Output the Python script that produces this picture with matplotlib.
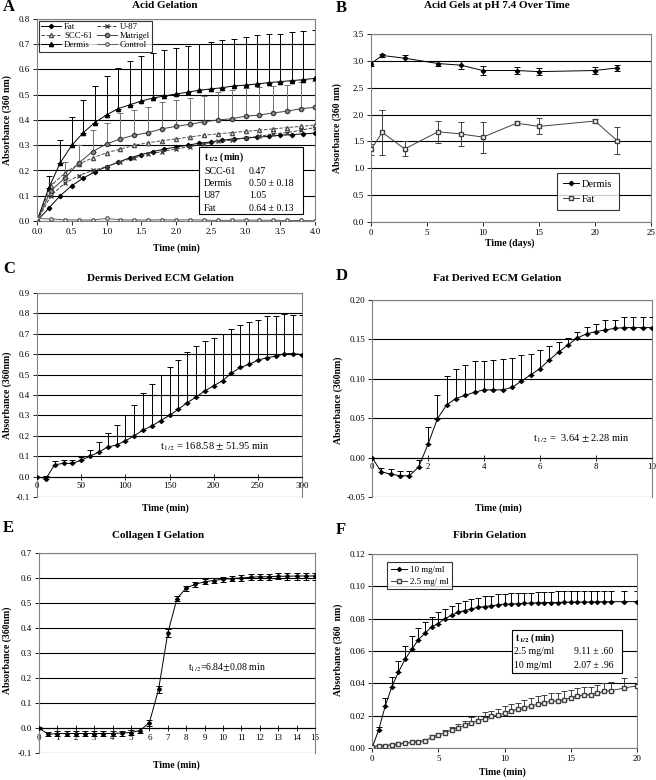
import matplotlib
matplotlib.use('Agg')
import matplotlib.pyplot as plt
import numpy as np
from matplotlib.patches import Rectangle
from matplotlib.lines import Line2D

plt.rcParams['font.family'] = ['Liberation Serif', 'DejaVu Serif']
plt.rcParams['mathtext.fontset'] = 'stix'

# ---------------- DATA ----------------
# Panel A (time in min)
a_t6 = [i / 6 for i in range(25)]
a_t5 = [i / 5 for i in range(21)]
a_dermis = [0, 0.13, 0.23, 0.30, 0.35, 0.39, 0.42, 0.445, 0.46, 0.475, 0.487, 0.495, 0.503,
            0.51, 0.518, 0.523, 0.528, 0.535, 0.538, 0.543, 0.548, 0.552, 0.556, 0.56, 0.565]
a_dermis_hi = [0, 0.18, 0.32, 0.41, 0.48, 0.535, 0.575, 0.607, 0.633, 0.652, 0.665, 0.678, 0.685,
               0.695, 0.70, 0.71, 0.715, 0.722, 0.727, 0.735, 0.74, 0.742, 0.748, 0.752, 0.758]
a_fat = [0, 0.05, 0.10, 0.14, 0.17, 0.195, 0.215, 0.233, 0.25, 0.263, 0.275, 0.285, 0.293,
         0.30, 0.308, 0.313, 0.32, 0.325, 0.328, 0.332, 0.335, 0.34, 0.342, 0.345, 0.348]
a_matrigel = [0, 0.12, 0.17, 0.23, 0.275, 0.305, 0.325, 0.34, 0.35, 0.365, 0.375, 0.383, 0.393,
              0.40, 0.405, 0.415, 0.42, 0.428, 0.435, 0.445, 0.45]
a_matrigel_hi = [0, 0.15, 0.235, 0.30, 0.36, 0.39, 0.427, 0.44, 0.452, 0.47, 0.478, 0.488, 0.495,
                 0.51, 0.52, 0.525, 0.53, 0.535, 0.54, 0.55, 0.555]
a_scc61 = [0, 0.14, 0.19, 0.225, 0.25, 0.27, 0.285, 0.30, 0.31, 0.318, 0.325, 0.333, 0.34,
           0.345, 0.35, 0.355, 0.36, 0.365, 0.37, 0.375, 0.38]
a_u87 = [0, 0.10, 0.15, 0.18, 0.20, 0.215, 0.235, 0.25, 0.265, 0.275, 0.285, 0.295, 0.305,
         0.315, 0.32, 0.33, 0.335, 0.345, 0.35, 0.36, 0.37]
a_control = [0.01, 0.008, 0.005, 0.004, 0.004, 0.01, 0.005, 0.004, 0.004, 0.005, 0.004, 0.005,
             0.004, 0.002, 0.003, 0.004, 0.003, 0.003, 0.002, 0.002, 0.001]
a_table = [("SCC-61", "0.47"), ("Dermis", "0.50 \u00b1 0.18"), ("U87", "1.05"), ("Fat", "0.64 \u00b1 0.13")]

# Panel B (days)
b_t = [0, 1, 3, 6, 8, 10, 13, 15, 20, 22]
b_dermis = [2.95, 3.10, 3.05, 2.95, 2.92, 2.82, 2.82, 2.80, 2.82, 2.87]
b_dermis_err = [0.04, 0.03, 0.06, 0.04, 0.07, 0.08, 0.07, 0.06, 0.07, 0.06]
b_fat = [1.35, 1.67, 1.36, 1.68, 1.64, 1.58, 1.84, 1.78, 1.88, 1.51]
b_fat_err = [0.10, 0.42, 0.14, 0.20, 0.22, 0.29, 0.04, 0.15, 0.03, 0.25]

# Panel C
c_t = list(range(0, 301, 10))
c_y = [0, -0.01, 0.058, 0.065, 0.065, 0.08, 0.10, 0.12, 0.145, 0.155, 0.175, 0.20, 0.228, 0.248,
       0.275, 0.30, 0.33, 0.362, 0.39, 0.42, 0.445, 0.47, 0.507, 0.535, 0.55, 0.57, 0.583, 0.59,
       0.602, 0.603, 0.598]
c_hi = [0, 0.005, 0.075, 0.08, 0.08, 0.095, 0.13, 0.17, 0.215, 0.255, 0.30, 0.35, 0.41, 0.455,
        0.50, 0.535, 0.57, 0.61, 0.638, 0.665, 0.68, 0.70, 0.725, 0.745, 0.757, 0.77, 0.785, 0.788,
        0.795, 0.79, 0.79]

# Panel D
d_t = [i / 3 for i in range(31)]
d_y = [0, -0.018, -0.021, -0.023, -0.023, -0.012, 0.017, 0.049, 0.067, 0.075, 0.079, 0.083,
       0.086, 0.086, 0.086, 0.089, 0.097, 0.105, 0.113, 0.124, 0.134, 0.143, 0.152, 0.157,
       0.160, 0.162, 0.164, 0.165, 0.165, 0.165, 0.165]
d_hi = [0, -0.013, -0.015, -0.017, -0.017, -0.003, 0.039, 0.080, 0.103, 0.113, 0.118, 0.122,
        0.123, 0.124, 0.125, 0.127, 0.130, 0.132, 0.136, 0.141, 0.147, 0.152, 0.159, 0.166,
        0.170, 0.174, 0.175, 0.178, 0.178, 0.179, 0.178]

# Panel E
e_t = [i / 2 for i in range(31)]
e_y = [0, -0.025, -0.022, -0.022, -0.022, -0.022, -0.022, -0.022, -0.022, -0.02, -0.018, -0.01,
       0.022, 0.155, 0.38, 0.518, 0.56, 0.575, 0.585, 0.59, 0.595, 0.598, 0.60, 0.603, 0.605,
       0.605, 0.607, 0.607, 0.608, 0.608, 0.608]
e_err = [0.004, 0.008, 0.01, 0.01, 0.01, 0.01, 0.01, 0.01, 0.01, 0.01, 0.01, 0.01, 0.012, 0.015,
         0.015, 0.01, 0.01, 0.01, 0.01, 0.01, 0.01, 0.01, 0.012, 0.012, 0.012, 0.012, 0.012,
         0.014, 0.014, 0.014, 0.014]

# Panel F
f_t = [i / 2 for i in range(37)] + [19, 20]
f_10 = [0, 0.011, 0.026, 0.038, 0.047, 0.055, 0.061, 0.067, 0.071, 0.075, 0.077, 0.080, 0.082,
        0.084, 0.085, 0.086, 0.087, 0.0875, 0.088, 0.0885, 0.089, 0.089, 0.0893, 0.0895, 0.0897,
        0.0898, 0.09, 0.09, 0.09, 0.0902, 0.0902, 0.0903, 0.0903, 0.0904, 0.0904, 0.0905, 0.0905,
        0.0905, 0.0906]
f_10_hi = [0, 0.013, 0.031, 0.044, 0.054, 0.063, 0.069, 0.074, 0.078, 0.081, 0.084, 0.086, 0.088,
           0.090, 0.091, 0.092, 0.093, 0.094, 0.094, 0.095, 0.095, 0.096, 0.096, 0.096, 0.096,
           0.0965, 0.0965, 0.0965, 0.097, 0.097, 0.097, 0.097, 0.097, 0.097, 0.097, 0.097, 0.097,
           0.097, 0.097]
f_25 = [0.0005, 0.0015, 0.0015, 0.002, 0.0025, 0.003, 0.0035, 0.004, 0.0045, 0.0065, 0.008,
        0.0095, 0.011, 0.0125, 0.014, 0.0155, 0.017, 0.018, 0.0195, 0.0205, 0.0215, 0.023,
        0.024, 0.025, 0.026, 0.027, 0.028, 0.029, 0.029, 0.030, 0.031, 0.032, 0.033, 0.033,
        0.034, 0.035, 0.0355, 0.037, 0.0385]
f_25_hi = [0.0005, 0.0018, 0.0018, 0.0025, 0.003, 0.0035, 0.004, 0.005, 0.0055, 0.0078, 0.0095,
           0.011, 0.013, 0.015, 0.017, 0.019, 0.020, 0.022, 0.023, 0.024, 0.026, 0.027, 0.028,
           0.030, 0.031, 0.032, 0.033, 0.034, 0.034, 0.035, 0.036, 0.037, 0.038, 0.038, 0.039,
           0.040, 0.041, 0.043, 0.044]
f_table = [("2.5 mg/ml", "9.11 \u00b1 .60"), ("10 mg/ml", "2.07 \u00b1 .96")]

# ---------------- FIGURE ----------------
W, H = 656, 780
fig = plt.figure(figsize=(W / 100, H / 100), dpi=100)


def fx(x):
    return x / W


def fy(y):
    return 1 - y / H


def axes_px(l, t, r, b):
    return fig.add_axes([l / W, 1 - b / H, (r - l) / W, (b - t) / H])


def style(ax, xlim, ylim, xticks, yticks, xfmt, yfmt, zero_axis=False):
    ax.set_xlim(*xlim)
    ax.set_ylim(*ylim)
    ax.set_xticks(xticks)
    ax.set_yticks(yticks)
    ax.set_xticklabels([xfmt.format(v) for v in xticks])
    ax.set_yticklabels([yfmt.format(v) for v in yticks])
    for y in yticks:
        ax.axhline(y, color='black', lw=0.8, zorder=0.5)
    for s in ax.spines.values():
        s.set_color('#808080')
        s.set_linewidth(0.8)
    ax.tick_params(labelsize=6.5, length=3, width=0.6, pad=2, colors='black')
    if zero_axis:
        ax.spines['bottom'].set_position(('data', 0))
        ax.spines['bottom'].set_color('black')
        ax.tick_params(axis='x', direction='inout', length=4)
        ax.set_xlim(*xlim)


def labels(title, tx, ty, xl, xlx, xly, yl, ylx, yly, letter, lx, ly):
    fig.text(fx(tx), fy(ty), title, ha='center', va='center', fontsize=8, fontweight='bold')
    fig.text(fx(xlx), fy(xly), xl, ha='center', va='center', fontsize=7, fontweight='bold')
    fig.text(fx(ylx), fy(yly), yl, ha='center', va='center', fontsize=7, fontweight='bold',
             rotation=90)
    fig.text(fx(lx), fy(ly), letter, ha='left', va='center', fontsize=12, fontweight='bold')


def upper(y, hi):
    y = np.asarray(y, float)
    hi = np.asarray(hi, float)
    return [np.zeros_like(y), np.clip(hi - y, 0, None)]


# ----- Panel A -----
ax = axes_px(37, 19, 315, 221)
style(ax, (0, 4), (0, 0.8), [0, 0.5, 1, 1.5, 2, 2.5, 3, 3.5, 4],
      [0, 0.1, 0.2, 0.3, 0.4, 0.5, 0.6, 0.7, 0.8], '{:.1f}', '{:.1f}')
ax.errorbar(a_t6, a_dermis, yerr=upper(a_dermis, a_dermis_hi), fmt='none', ecolor='black',
            elinewidth=0.7, capsize=2, capthick=0.7, zorder=2)
ax.errorbar(a_t5, a_matrigel, yerr=upper(a_matrigel, a_matrigel_hi), fmt='none', ecolor='#707070',
            elinewidth=0.7, capsize=2, capthick=0.7, zorder=2)
h_fat, = ax.plot(a_t6, a_fat, '-D', color='black', ms=2.2, lw=0.7, label='Fat', zorder=3)
h_scc, = ax.plot(a_t5, a_scc61, '--^', color='#505050', mfc='white', ms=3, lw=0.7,
                 label='SCC-61', zorder=3)
h_der, = ax.plot(a_t6, a_dermis, '-^', color='black', ms=3, lw=0.7, label='Dermis', zorder=3)
h_u87, = ax.plot(a_t5, a_u87, '--x', color='#404040', ms=3, lw=0.7, label='U-87', zorder=3)
h_mat, = ax.plot(a_t5, a_matrigel, '-o', color='#404040', mfc='#909090', ms=3, lw=0.7,
                 label='Matrigel', zorder=3)
h_con, = ax.plot(a_t5, a_control, '-o', color='#606060', mfc='white', ms=2.5, lw=0.7,
                 label='Control', zorder=3)
leg = ax.legend(handles=[h_fat, h_scc, h_der, h_u87, h_mat, h_con], ncol=2, loc='upper left',
                bbox_to_anchor=(fx(39), fy(21)), bbox_transform=fig.transFigure,
                fontsize=6.3, frameon=True, fancybox=False, edgecolor='black',
                handlelength=2.3, handletextpad=0.3, columnspacing=0.5, borderpad=0.25,
                labelspacing=0.1, borderaxespad=0)
leg.get_frame().set_linewidth(0.8)
# t1/2 table
fig.patches.append(Rectangle((fx(199), fy(214)), (303 - 199) / W, (214 - 147) / H,
                             transform=fig.transFigure, facecolor='white', edgecolor='black',
                             lw=0.8, zorder=5))
fig.text(fx(204), fy(157), r'$\mathbf{t}_{\,\mathbf{1/2}}$ (min)', fontsize=7, fontweight='bold',
         va='center', zorder=6)
for i, (n, v) in enumerate(a_table):
    fig.text(fx(204), fy(171.5 + i * 12.2), n, fontsize=7, va='center', zorder=6)
    fig.text(fx(249), fy(171.5 + i * 12.2), v, fontsize=7, va='center', zorder=6)
labels('Acid Gelation', 165, 5, 'Time (min)', 176, 248, 'Absorbance (360 nm)', 7, 120,
       'A', 3, 7)

# ----- Panel B -----
ax = axes_px(371, 34, 651, 222)
style(ax, (0, 25), (0, 3.5), [0, 5, 10, 15, 20, 25],
      [0, 0.5, 1, 1.5, 2, 2.5, 3, 3.5], '{:d}', '{:.1f}')
ax.errorbar(b_t, b_dermis, yerr=b_dermis_err, fmt='none', ecolor='black',
            elinewidth=0.7, capsize=2, capthick=0.7, zorder=2)
ax.errorbar(b_t, b_fat, yerr=b_fat_err, fmt='none', ecolor='#404040',
            elinewidth=0.7, capsize=2, capthick=0.7, zorder=2)
hb1, = ax.plot(b_t, b_dermis, '-D', color='black', ms=2.2, lw=0.7, label='Dermis', zorder=3)
hb2, = ax.plot(b_t, b_fat, '-s', color='#404040', mfc='white', ms=2.8, lw=0.7, label='Fat',
               zorder=3)
leg = ax.legend(handles=[hb1, hb2], loc='upper left', bbox_to_anchor=(fx(557), fy(173)),
                bbox_transform=fig.transFigure, fontsize=7.5, fancybox=False, edgecolor='black',
                handlelength=1.5, handletextpad=0.3, borderpad=0.6, labelspacing=0.6,
                borderaxespad=0)
leg.get_frame().set_linewidth(0.8)
labels('Acid Gels at pH 7.4 Over Time', 497, 6, 'Time (days)', 510, 243,
       'Absorbance (360 nm)', 337, 128, 'B', 336, 8)

# ----- Panel C -----
ax = axes_px(37, 293, 302, 497)
style(ax, (0, 300), (-0.1, 0.9), [0, 50, 100, 150, 200, 250, 300],
      [-0.1, 0, 0.1, 0.2, 0.3, 0.4, 0.5, 0.6, 0.7, 0.8, 0.9], '{:d}', '{:.1f}', zero_axis=True)
ax.errorbar(c_t, c_y, yerr=upper(c_y, c_hi), fmt='-D', color='black', ms=2, lw=0.7,
            elinewidth=0.7, capsize=2, capthick=0.7, zorder=3)
fig.text(fx(160), fy(447), r't$_{\,1/2}$ = 168.58 $\pm$ 51.95 min', fontsize=7.5, va='center')
labels('Dermis Derived ECM Gelation', 160, 278, 'Time (min)', 165, 508,
       'Absorbance (360nm)', 7, 395, 'C', 3, 269)

# ----- Panel D -----
ax = axes_px(372, 300, 652, 497)
style(ax, (0, 10), (-0.05, 0.2), [0, 2, 4, 6, 8, 10],
      [-0.05, 0, 0.05, 0.1, 0.15, 0.2], '{:d}', '{:.2f}', zero_axis=True)
ax.errorbar(d_t, d_y, yerr=upper(d_y, d_hi), fmt='-D', color='black', ms=2, lw=0.7,
            elinewidth=0.7, capsize=2, capthick=0.7, zorder=3)
fig.text(fx(533), fy(439), r't$_{\,1/2}$ =  3.64 $\pm$ 2.28 min', fontsize=7.5, va='center')
labels('Fat Derived ECM Gelation', 497, 278, 'Time (min)', 498, 508,
       'Absorbance (360nm)', 338, 400, 'D', 336, 276)

# ----- Panel E -----
ax = axes_px(39, 553, 315, 753)
style(ax, (0, 15), (-0.1, 0.7), list(range(16)),
      [-0.1, 0, 0.1, 0.2, 0.3, 0.4, 0.5, 0.6, 0.7], '{:d}', '{:.1f}', zero_axis=True)
ax.errorbar(e_t, e_y, yerr=e_err, fmt='-D', color='black', ms=2, lw=0.7,
            elinewidth=0.7, capsize=2, capthick=0.7, zorder=3)
fig.text(fx(188), fy(668), r't$_{1/2}$=6.84$\pm$0.08 min', fontsize=7, va='center')
labels('Collagen I Gelation', 158, 536, 'Time (min)', 176, 765,
       'Absorbance (360nm)', 7, 650, 'E', 3, 528)

# ----- Panel F -----
ax = axes_px(372, 554, 637, 748)
style(ax, (0, 20), (0, 0.12), [0, 5, 10, 15, 20],
      [0, 0.02, 0.04, 0.06, 0.08, 0.1, 0.12], '{:d}', '{:.2f}')
ax.errorbar(f_t, f_10, yerr=upper(f_10, f_10_hi), fmt='none', ecolor='black',
            elinewidth=0.7, capsize=2, capthick=0.7, zorder=2)
ax.errorbar(f_t, f_25, yerr=upper(f_25, f_25_hi), fmt='none', ecolor='#404040',
            elinewidth=0.7, capsize=2, capthick=0.7, zorder=2)
hf1, = ax.plot(f_t, f_10, '-D', color='black', ms=2, lw=0.7, label='10 mg/ml', zorder=3)
hf2, = ax.plot(f_t, f_25, '-s', color='#404040', mfc='white', ms=2.5, lw=0.7,
               label='2.5 mg/ ml', zorder=3)
leg = ax.legend(handles=[hf1, hf2], loc='upper left', bbox_to_anchor=(fx(387), fy(562)),
                bbox_transform=fig.transFigure, fontsize=6.5, fancybox=False, edgecolor='black',
                handlelength=1.8, handletextpad=0.3, borderpad=0.4, labelspacing=0.4,
                borderaxespad=0)
leg.get_frame().set_linewidth(0.8)
fig.patches.append(Rectangle((fx(512), fy(673)), (622 - 512) / W, (673 - 630) / H,
                             transform=fig.transFigure, facecolor='white', edgecolor='black',
                             lw=0.8, zorder=5))
fig.text(fx(515), fy(638), r'$\mathbf{t}_{\,\mathbf{1/2}}$ (min)', fontsize=7, fontweight='bold',
         va='center', zorder=6)
for i, (n, v) in enumerate(f_table):
    fig.text(fx(514), fy(652 + i * 13), n, fontsize=7, va='center', zorder=6)
    fig.text(fx(574), fy(652 + i * 13), v, fontsize=7, va='center', zorder=6)
labels('Fibrin Gelation', 490, 536, 'Time (min)', 502, 772,
       'Absorbance (360  nm)', 338, 650, 'F', 336, 530)

fig.savefig('out.png', dpi=100, facecolor='white')
